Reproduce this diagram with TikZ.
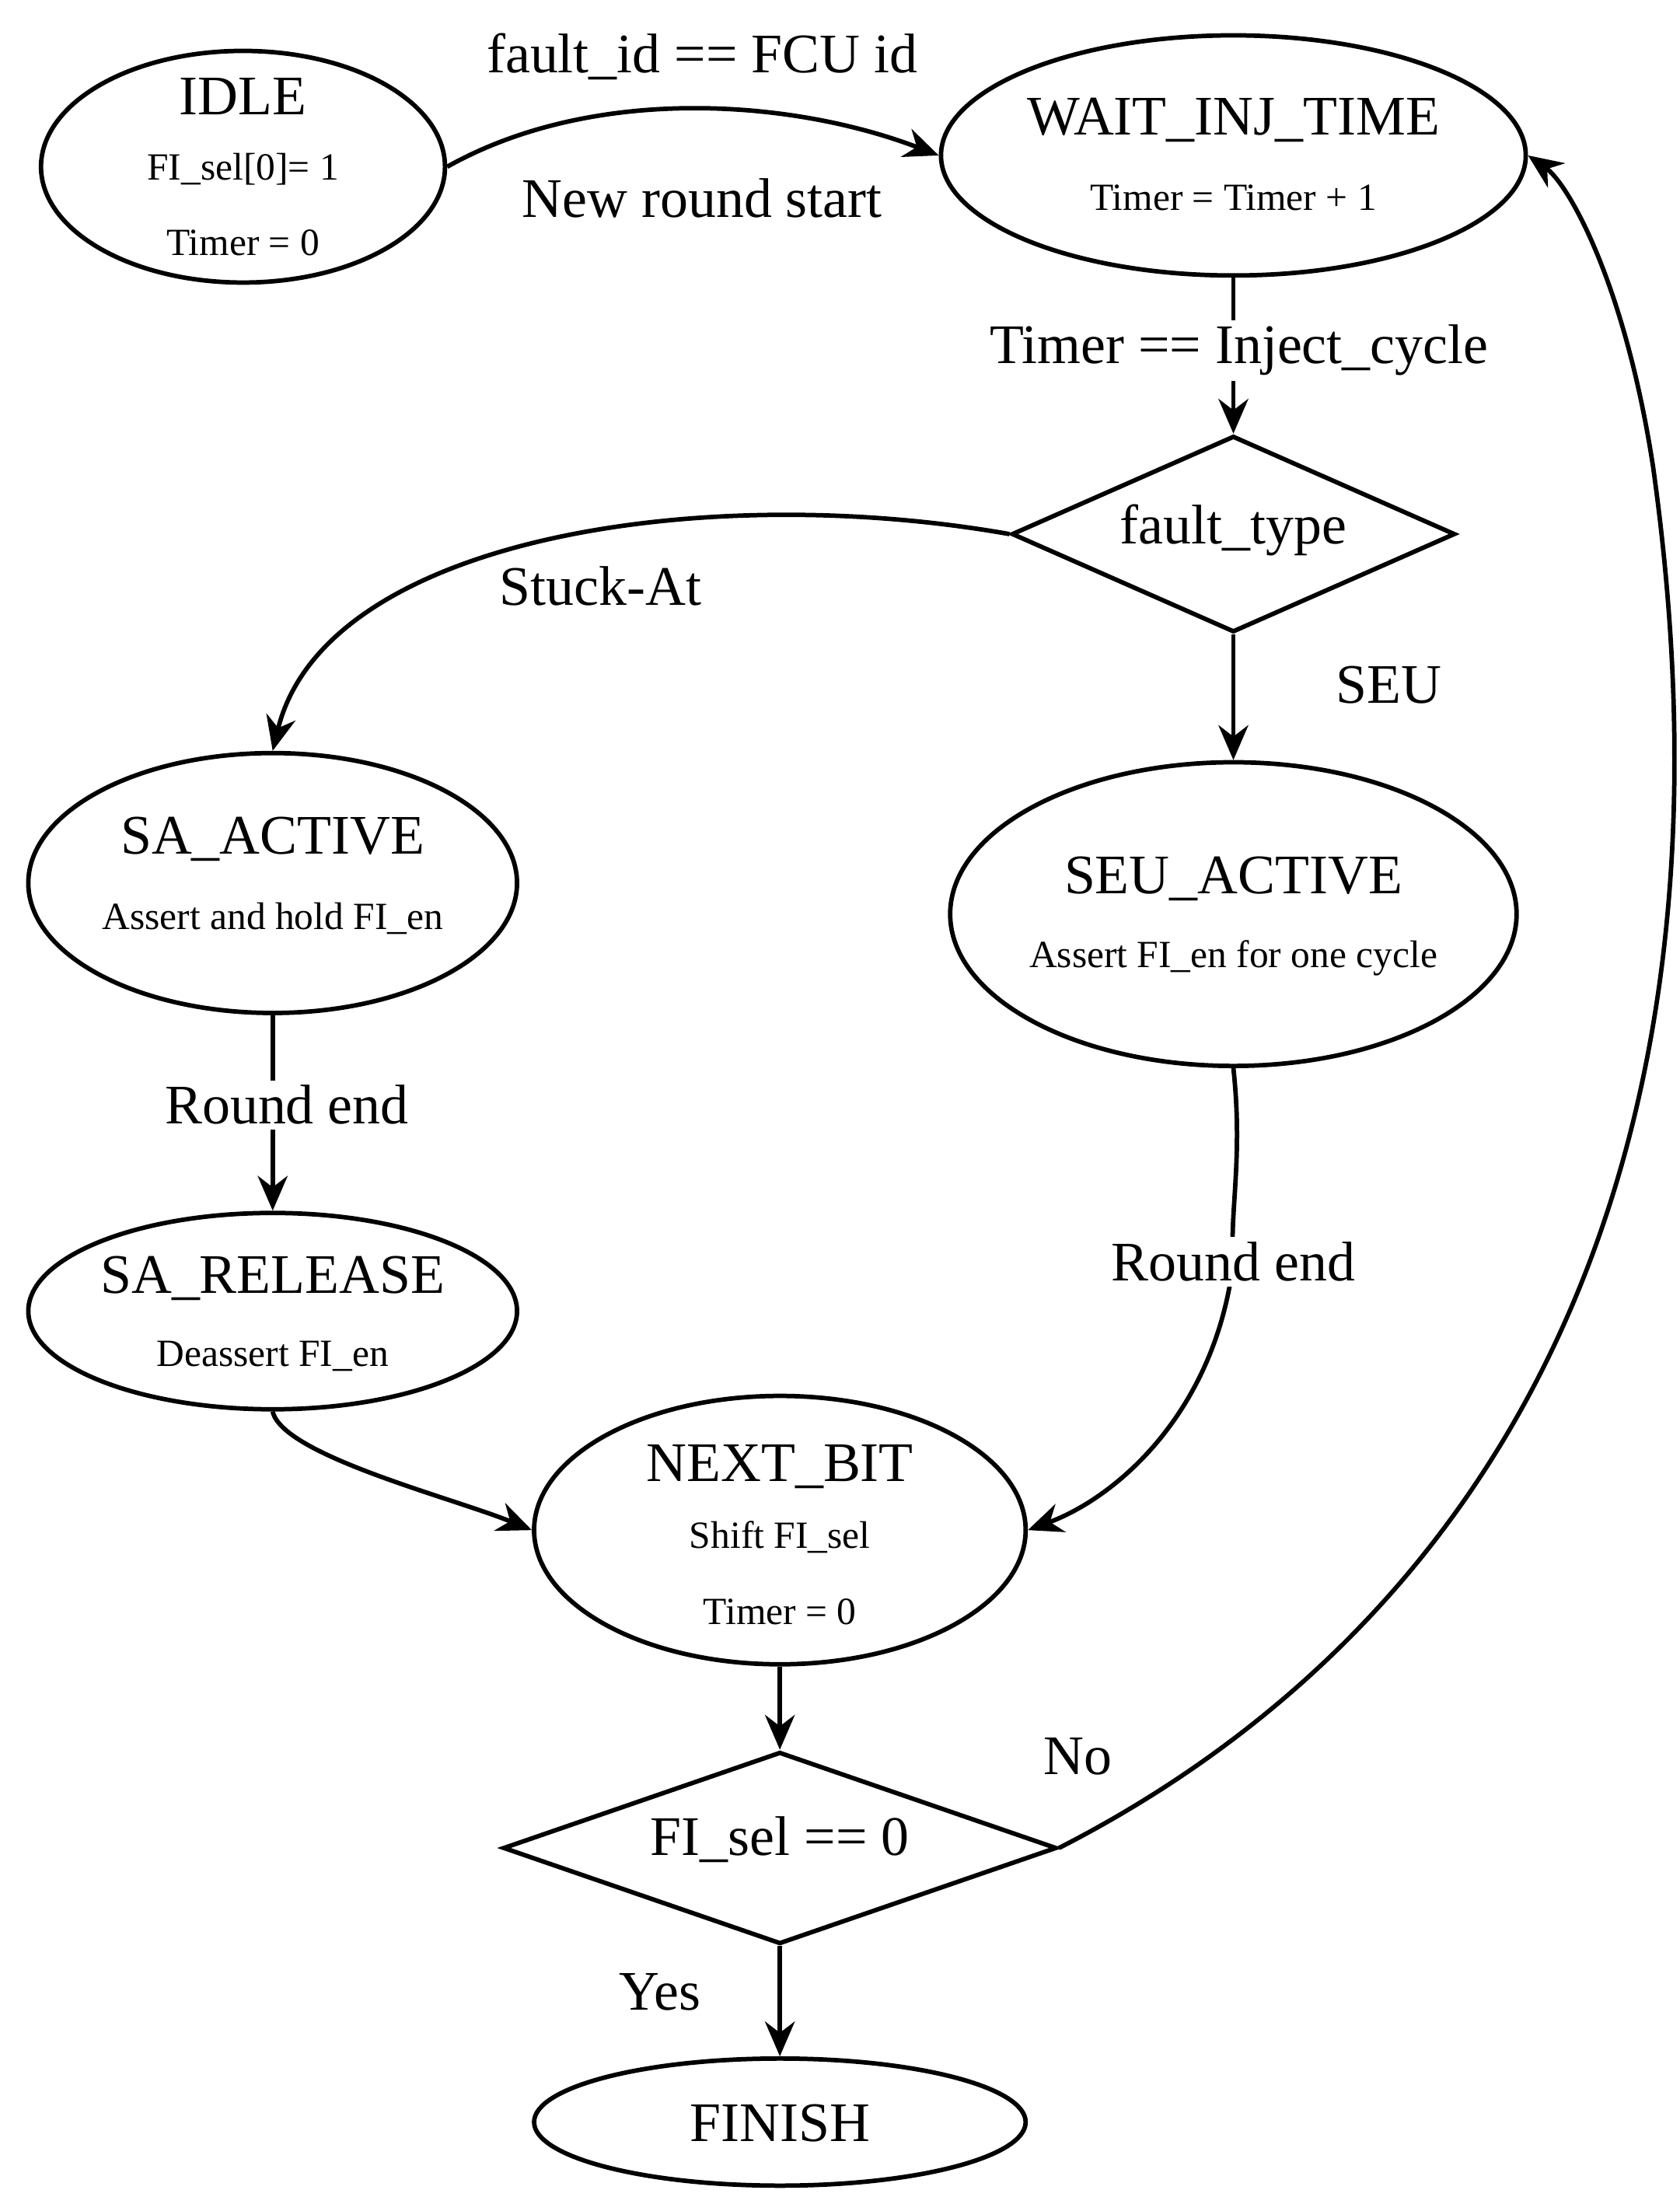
\documentclass[tikz,border=0pt]{standalone}
\usepackage{fontspec}
\setmainfont{Liberation Serif}
\usetikzlibrary{shapes.geometric,arrows.meta}
\begin{document}
\begin{tikzpicture}[x=0.02cm,y=-0.02cm,
  st/.style={ellipse,draw,line width=1.8pt,inner sep=0},
  ar/.style={-{Stealth[length=14pt,width=12pt]},line width=1.8pt},
  big/.style={font=\fontsize{22.5}{26}\selectfont},
  sm/.style={font=\fontsize{15.5}{18}\selectfont},
  lb/.style={big,fill=white,inner sep=2pt}]
\useasboundingbox (0,0) rectangle (1189,1560);
\node[st,minimum width=5.72cm,minimum height=3.28cm] (idle) at (172,118) {};
\node[big] at (172,68) {IDLE};
\node[sm] at (172,120) {FI\_sel[0]= 1};
\node[sm] at (172,172) {Timer = 0};
\node[st,minimum width=8.28cm,minimum height=3.4cm] (wait) at (873,110) {};
\node[big] at (873,85) {WAIT\_INJ\_TIME};
\node[sm] at (873,140) {Timer = Timer + 1};
\node[diamond,draw,line width=1.8pt,inner sep=0,minimum width=6.28cm,minimum height=2.78cm] (ft) at (873,378) {};
\node[big] at (873,375) {fault\_type};
\node[st,minimum width=6.92cm,minimum height=3.68cm] (saa) at (193,625) {};
\node[big] at (193,594) {SA\_ACTIVE};
\node[sm] at (193,650) {Assert and hold FI\_en};
\node[st,minimum width=8.02cm,minimum height=4.3cm] (seu) at (873,647) {};
\node[big] at (873,622) {SEU\_ACTIVE};
\node[sm] at (873,678) {Assert FI\_en for one cycle};
\node[st,minimum width=6.92cm,minimum height=2.78cm] (sar) at (193,928) {};
\node[big] at (193,905) {SA\_RELEASE};
\node[sm] at (193,960) {Deassert FI\_en};
\node[st,minimum width=6.96cm,minimum height=3.8cm] (nb) at (552,1083) {};
\node[big] at (552,1038) {NEXT\_BIT};
\node[sm] at (552,1088) {Shift FI\_sel};
\node[sm] at (552,1141) {Timer = 0};
\node[diamond,draw,line width=1.8pt,inner sep=0,minimum width=7.84cm,minimum height=2.72cm] (fs) at (552,1308) {};
\node[big] at (552,1302) {FI\_sel == 0};
\node[st,minimum width=6.96cm,minimum height=1.8cm] (fin) at (552,1502) {};
\node[big] at (552,1503) {FINISH};
% edges
\draw[ar] (idle.east) .. controls (420,60) and (560,70) .. (wait.west);
\node[big] at (497,40) {fault\_id == FCU id};
\node[big] at (497,140) {New round start};
\draw[ar] (wait.south) -- (ft.north);
\node[lb] at (877,248) {Timer == Inject\_cycle};
\draw[ar] (ft.west) .. controls (500,340) and (230,380) .. (saa.north);
\node[big] at (425,415) {Stuck-At};
\draw[ar] (ft.south) -- (seu.north);
\node[big] at (983,485) {SEU};
\draw[ar] (saa.south) -- (sar.north);
\node[lb] at (203,782) {Round end};
\draw[ar] (seu.south) .. controls (880,820) and (870,860) .. (873,893) .. controls (860,1000) and (790,1060) .. (nb.east);
\node[lb] at (873,893) {Round end};
\draw[ar] (sar.south) .. controls (200,1030) and (320,1060) .. (nb.west);
\draw[ar] (nb.south) -- (fs.north);
\draw[ar] (fs.east) .. controls (1000,1180) and (1250,900) .. (1170,330) .. controls (1150,200) and (1110,130) .. (wait.east);
\node[big] at (763,1243) {No};
\draw[ar] (fs.south) -- (fin.north);
\node[big] at (467,1410) {Yes};
\end{tikzpicture}
\end{document}
